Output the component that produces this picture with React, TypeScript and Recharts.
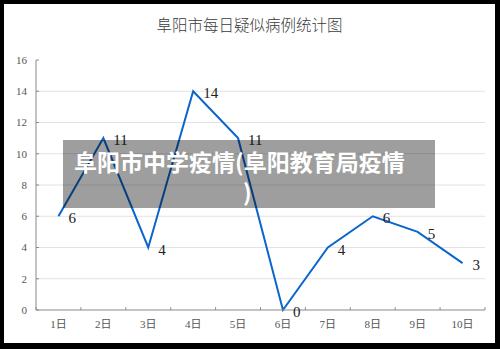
import React from 'react';
import { LineChart, Line, XAxis, YAxis, CartesianGrid, LabelList, ReferenceLine } from 'recharts';

const title = '阜阳市每日疑似病例统计图';
const days = ['1日', '2日', '3日', '4日', '5日', '6日', '7日', '8日', '9日', '10日'];
const cases = [6, 11, 4, 14, 11, 0, 4, 6, 5, 3];
const yTicks = [0, 2, 4, 6, 8, 10, 12, 14, 16];
const gridValues = [2, 4, 6, 8, 10, 12, 14];
const bandEdges = [0.5, 1.5, 2.5, 3.5, 4.5, 5.5, 6.5, 7.5, 8.5, 9.5, 10.5];
const overlayLine1 = '阜阳市中学疫情(阜阳教育局疫情';
const overlayLine2 = ')';

const data = days.map((d, i) => ({ idx: i + 1, day: d, value: cases[i] }));

const serif = '"Liberation Serif", "Times New Roman", "Noto Sans CJK SC", serif';

const renderLabel = (props: any) => {
  const { x, y, value } = props;
  return (
    <text x={x + 10} y={y + 7} fontSize={15} fontFamily={serif} fill="#222" textAnchor="start">
      {value}
    </text>
  );
};

export default function App() {
  return (
    <div style={{ position: 'absolute', left: 0, top: 0, width: 500, height: 349, background: '#000' }}>
      <div style={{ position: 'absolute', left: 4, top: 4, width: 491, height: 339, background: '#fff', overflow: 'hidden' }}>
        <div
          style={{
            position: 'absolute',
            left: 0,
            top: 10,
            width: 491,
            textAlign: 'center',
            fontFamily: '"Noto Sans CJK SC", sans-serif',
            fontSize: 15.5,
            lineHeight: '20px',
            color: '#3a3a3a',
            fontWeight: 300,
          }}
        >
          {title}
        </div>
        <LineChart width={491} height={339} data={data} margin={{ top: 56, right: 10, bottom: 0, left: 0 }}>
          <CartesianGrid vertical={false} stroke="#e2e2e2" horizontalValues={gridValues} />
          <XAxis
            dataKey="idx"
            type="number"
            domain={[0.5, 10.5]}
            ticks={days.map((_, i) => i + 1)}
            tickFormatter={(v: number) => days[v - 1]}
            height={33}
            tickLine={false}
            tickSize={0}
            tickMargin={10}
            axisLine={{ stroke: '#8a8a8a' }}
            tick={{ fontSize: 11, fontFamily: serif, fill: '#555' }}
            interval={0}
            allowDecimals
          />
          <YAxis
            domain={[0, 16]}
            ticks={yTicks}
            width={32}
            tickSize={-3}
            tickMargin={12}
            axisLine={{ stroke: '#8a8a8a' }}
            tickLine={{ stroke: '#8a8a8a' }}
            tick={{ fontSize: 11, fontFamily: serif, fill: '#555' }}
            interval={0}
          />
          {bandEdges.map((e) => (
            <ReferenceLine
              key={e}
              segment={[{ x: e, y: 0 }, { x: e, y: 0.18 }]}
              stroke="#8a8a8a"
              ifOverflow="visible"
            />
          ))}
          <Line
            type="linear"
            dataKey="value"
            stroke="#0b66cc"
            strokeWidth={2}
            dot={false}
            isAnimationActive={false}
          >
            <LabelList dataKey="value" content={renderLabel} />
          </Line>
        </LineChart>
        <div
          style={{
            position: 'absolute',
            left: 59,
            top: 136,
            width: 372,
            height: 68,
            background: 'rgba(0,0,0,0.38)',
            color: '#fff',
            fontFamily: '"Noto Sans CJK SC", sans-serif',
            fontWeight: 700,
            fontSize: 23,
            lineHeight: '30px',
          }}
        >
          <div style={{ position: 'absolute', left: 11, top: 6, whiteSpace: 'nowrap' }}>{overlayLine1}</div>
          <div style={{ position: 'absolute', left: 180, top: 36, whiteSpace: 'nowrap' }}>{overlayLine2}</div>
        </div>
      </div>
    </div>
  );
}
